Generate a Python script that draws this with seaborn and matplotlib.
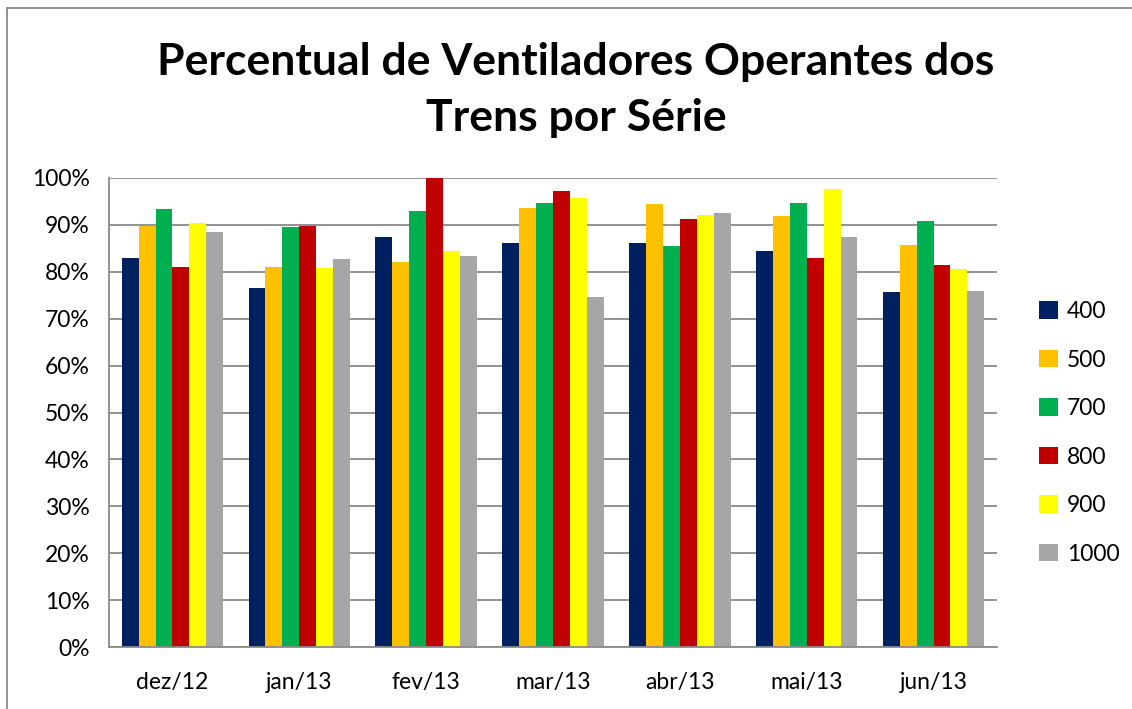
import matplotlib
matplotlib.use("Agg")
import matplotlib.pyplot as plt
from matplotlib.lines import Line2D
from matplotlib.patches import Patch
from matplotlib.ticker import FuncFormatter, FixedLocator
import seaborn as sns
import pandas as pd

# Monthly share of operating fans, per train series
months = ["dez/12", "jan/13", "fev/13", "mar/13", "abr/13", "mai/13", "jun/13"]
series = ["400", "500", "700", "800", "900", "1000"]

s400 = [0.829, 0.766, 0.874, 0.861, 0.861, 0.844, 0.756]
s500 = [0.897, 0.810, 0.821, 0.937, 0.945, 0.918, 0.857]
s700 = [0.933, 0.896, 0.930, 0.947, 0.854, 0.946, 0.908]
s800 = [0.811, 0.898, 1.000, 0.973, 0.913, 0.829, 0.814]
s900 = [0.903, 0.808, 0.845, 0.957, 0.921, 0.977, 0.807]
s1000 = [0.884, 0.828, 0.833, 0.747, 0.925, 0.874, 0.758]

colors = ["#002060", "#FFC000", "#00B050", "#C00000", "#FFFF00", "#A6A6A6"]

values = [s400, s500, s700, s800, s900, s1000]
df = pd.DataFrame(
    [(m, s, v) for s, vals in zip(series, values) for m, v in zip(months, vals)],
    columns=["mes", "serie", "valor"],
)

sns.set_style("white")
plt.rcParams["font.family"] = ["Lato", "DejaVu Sans"]
plt.rcParams["text.color"] = "black"

W, H = 1132, 709
fig = plt.figure(figsize=(W / 100, H / 100), dpi=100)
fig.patch.set_facecolor("white")

# plot area in pixel coordinates
x0, x1, y0, y1 = 109, 997, 178, 647
ax = fig.add_axes([x0 / W, 1 - y1 / H, (x1 - x0) / W, (y1 - y0) / H])

sns.barplot(
    data=df, x="mes", y="valor", hue="serie", order=months, hue_order=series,
    palette=colors, width=0.8, linewidth=0, saturation=1, ax=ax, legend=False,
)

ax.set_ylim(0, 1.0)
ax.set_xlim(-0.5, len(months) - 0.5)
ax.yaxis.set_major_locator(FixedLocator([i / 10 for i in range(11)]))
ax.yaxis.set_major_formatter(FuncFormatter(lambda v, _: f"{round(v * 100)}%"))
ax.grid(axis="y", color="#8a8a8a", linewidth=1.3, zorder=0)
ax.set_axisbelow(True)
ax.set_xlabel("")
ax.set_ylabel("")

for side in ["top", "right"]:
    ax.spines[side].set_visible(False)
for side in ["left", "bottom"]:
    ax.spines[side].set_color("#8a8a8a")
    ax.spines[side].set_linewidth(1.3)

ax.tick_params(axis="y", which="major", length=8, width=1.3, color="#8a8a8a",
               labelsize=16.5, labelcolor="black", pad=6)
ax.tick_params(axis="x", which="major", length=0, labelsize=16.5,
               labelcolor="black", pad=18)
ax.set_xticks(range(len(months)))
ax.set_xticks([i - 0.5 for i in range(len(months) + 1)], minor=True)
ax.tick_params(axis="x", which="minor", length=8, width=1.3, color="#8a8a8a")

# title
fig.text(576 / W, 1 - 62 / H, "Percentual de Ventiladores Operantes dos",
         ha="center", va="center", fontsize=32, fontweight="bold",
         color="black")
fig.text(576 / W, 1 - 118 / H, "Trens por Série",
         ha="center", va="center", fontsize=32, fontweight="bold",
         color="black")

# legend
handles = [Patch(facecolor=c, edgecolor="none") for c in colors]
leg = fig.legend(handles, series, loc="upper left",
                 bbox_to_anchor=(1030 / W, 1 - 292 / H), frameon=False,
                 fontsize=16.5, handlelength=0.8, handleheight=0.8,
                 handletextpad=0.4, labelspacing=1.2, borderaxespad=0)
for t in leg.get_texts():
    t.set_color("black")

# chart frame (top and left edges)
fig.add_artist(Line2D([7 / W, 1], [1 - 8 / H, 1 - 8 / H], color="#8a8a8a", lw=1.3))
fig.add_artist(Line2D([7 / W, 7 / W], [0, 1 - 8 / H], color="#8a8a8a", lw=1.3))

fig.savefig("out.png", dpi=100, facecolor="white")
